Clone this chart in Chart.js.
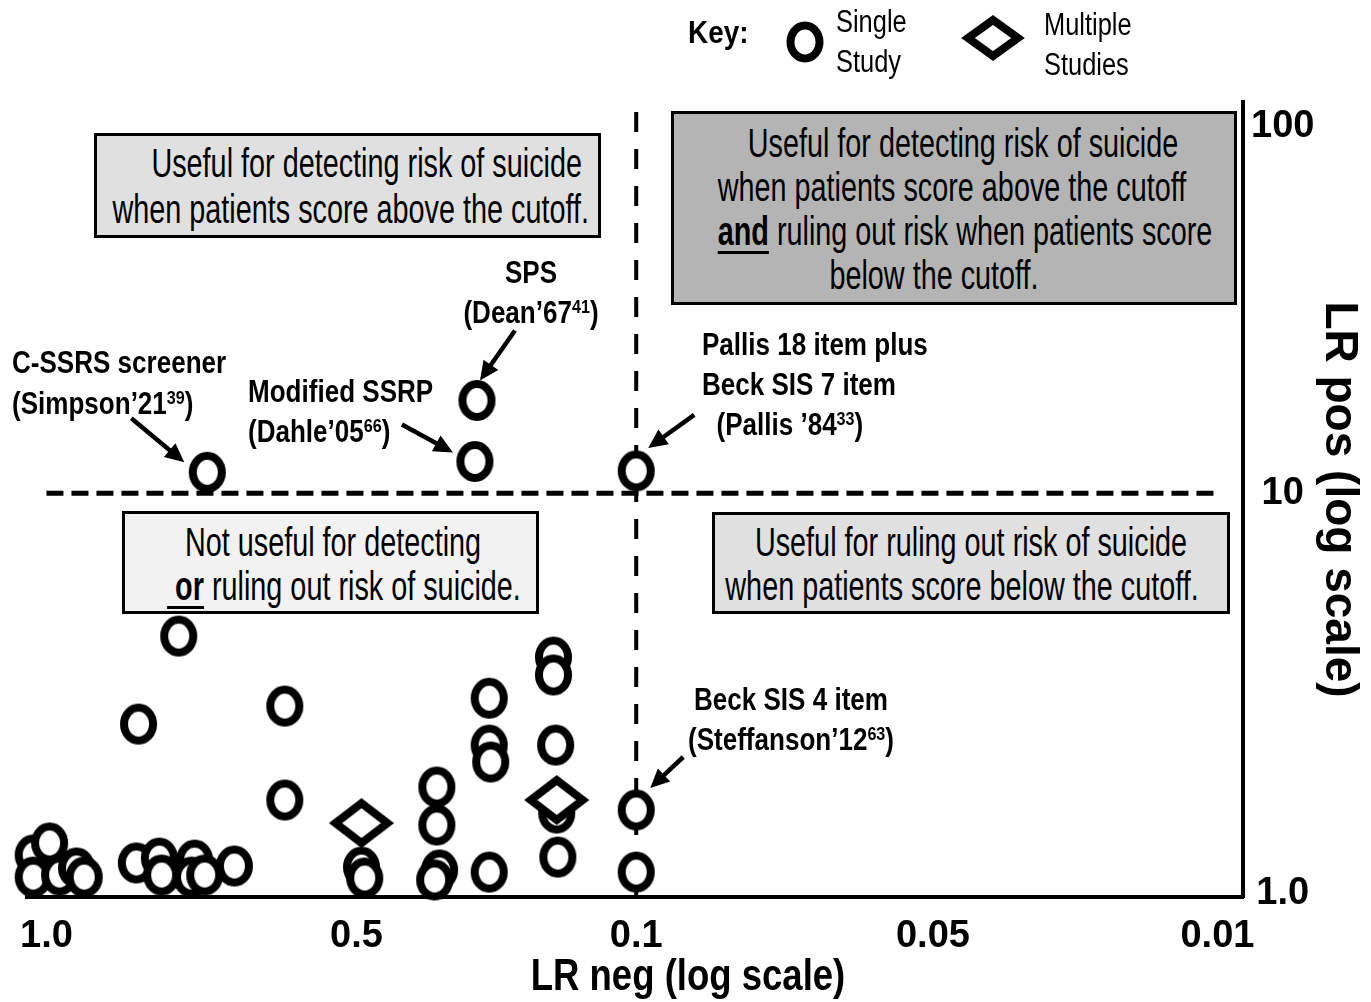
<!DOCTYPE html>
<html>
<head>
<meta charset="utf-8">
<title>LR pos vs LR neg</title>
<script src="https://cdn.jsdelivr.net/npm/chart.js@4.4.1/dist/chart.umd.min.js"></script>
<style>
  body { margin: 0; background: #fff; }
  #wrap { position: relative; width: 1371px; height: 1002px; overflow: hidden; }
  #chart { position: absolute; left: 0; top: 0; }
  .box { position: absolute; border: 3px solid #000; box-sizing: border-box; }
  /* the figure's lettering is a condensed face, so squeeze Liberation Sans */
  .t { position: absolute; white-space: nowrap; font-family: "Liberation Sans", Arial, sans-serif; color: #000; }
  .al { transform-origin: 0 50%; transform: scaleX(var(--s)); }
  .ac { transform-origin: 50% 50%; transform: translateX(-50%) scaleX(var(--s)); }
  .ar { transform-origin: 100% 50%; transform: translateX(-100%) scaleX(var(--s)); }
  .bt { font-size: 40px; line-height: 44px; --s: 0.72; }
  .lab { font-size: 31px; line-height: 40px; font-weight: bold; --s: 0.84; }
  .kt { font-size: 31px; line-height: 40px; --s: 0.82; }
  sup { font-size: 0.62em; line-height: 0; vertical-align: 0.5em; }
  u { text-decoration-thickness: 3px; text-underline-offset: 6px; }
  svg { position: absolute; overflow: visible; }
</style>
</head>
<body>
<div id="wrap">
  <canvas id="chart" width="1371" height="1002"></canvas>

  <!-- key -->
  <div class="t lab al" style="left:688px;top:13px;--s:0.9;">Key:</div>
  <svg style="left:805px;top:42px;" width="1" height="1"><ellipse cx="0" cy="0" rx="14.5" ry="16.5" fill="#fff" stroke="#000" stroke-width="8"/></svg>
  <div class="t kt al" style="left:836px;top:2px;">Single</div>
  <div class="t kt al" style="left:836px;top:42px;">Study</div>
  <svg style="left:993px;top:38px;" width="1" height="1"><polygon points="-25,0 0,-18 25,0 0,18" fill="#fff" stroke="#000" stroke-width="8"/></svg>
  <div class="t kt al" style="left:1044px;top:5px;">Multiple</div>
  <div class="t kt al" style="left:1044px;top:45px;">Studies</div>

  <!-- quadrant boxes -->
  <div class="box" style="left:94px;top:133px;width:507px;height:105px;background:#e0e0e0;"></div>
  <div class="t bt ar" style="left:582px;top:141px;">Useful for detecting risk of suicide</div>
  <div class="t bt ar" style="left:589px;top:187px;">when patients score above the cutoff.</div>

  <div class="box" style="left:671px;top:111px;width:566px;height:194px;background:#b4b4b4;"></div>
  <div class="t bt ac" style="left:963px;top:121px;">Useful for detecting risk of suicide</div>
  <div class="t bt ac" style="left:952px;top:165px;">when patients score above the cutoff</div>
  <div class="t bt ac" style="left:965px;top:209px;"><u><b>and</b></u> ruling out risk when patients score</div>
  <div class="t bt ac" style="left:934px;top:253px;">below the cutoff.</div>

  <div class="box" style="left:122px;top:511px;width:417px;height:103px;background:#f2f2f2;"></div>
  <div class="t bt ac" style="left:333px;top:520px;">Not useful for detecting</div>
  <div class="t bt ac" style="left:344px;top:564px;"><u><b>&nbsp;or</b></u> ruling out risk of suicide.</div>

  <div class="box" style="left:712px;top:512px;width:518px;height:102px;background:#e0e0e0;"></div>
  <div class="t bt ac" style="left:971px;top:520px;">Useful for ruling out risk of suicide</div>
  <div class="t bt ac" style="left:962px;top:564px;">when patients score below the cutoff.</div>

  <!-- study labels -->
  <div class="t lab al" style="left:12px;top:342px;line-height:41px;">C-SSRS screener<br>(Simpson’21<sup>39</sup>)</div>
  <div class="t lab al" style="left:248px;top:372px;">Modified SSRP<br>(Dahle’05<sup>66</sup>)</div>
  <div class="t lab ac" style="left:531px;top:253px;text-align:center;">SPS<br>(Dean’67<sup>41</sup>)</div>
  <div class="t lab al" style="left:702px;top:325px;">Pallis 18 item plus<br>Beck SIS 7 item<br>&nbsp;&nbsp;(Pallis ’84<sup>33</sup>)</div>
  <div class="t lab ac" style="left:791px;top:680px;text-align:center;">Beck SIS 4 item<br>(Steffanson’12<sup>63</sup>)</div>

  <!-- x axis title -->
  <div class="t ac" style="left:688px;top:950px;font-weight:bold;font-size:44px;line-height:50px;--s:0.83;">LR neg (log scale)</div>
</div>

<script>
// ---- values ----
const xTickLabels = ['1.0', '0.5', '0.1', '0.05', '0.01'];
const xTickValues = [1, 0.5, 0.1, 0.05, 0.01];
const yTickLabels = ['1.0', '10', '100'];
const yTickValues = [1, 10, 100];

// single studies: LR neg and LR pos
const singleNeg = [1.03, 0.993, 1.03, 0.971, 0.935, 0.919,
                   0.818, 0.777, 0.773, 0.718, 0.723, 0.702, 0.657,
                   0.587, 0.744, 0.814, 0.587,
                   0.486, 0.477,
                   0.315, 0.315, 0.310, 0.319,
                   0.233, 0.233, 0.231, 0.233,
                   0.161, 0.161, 0.159, 0.158, 0.157,
                   0.10, 0.10,
                   0.698, 0.250, 0.253, 0.10];
const singlePos = [1.245, 1.334, 1.096, 1.109, 1.155, 1.096,
                   1.189, 1.223, 1.109, 1.209, 1.096, 1.109, 1.168,
                   1.708, 4.39, 2.645, 2.934,
                   1.161, 1.090,
                   1.841, 1.479, 1.142, 1.078,
                   3.07, 2.344, 2.126, 1.128,
                   3.89, 3.51, 2.344, 1.585, 1.23,
                   1.613, 1.128,
                   11.4, 17.9, 12.2, 11.5];

// pooled estimates (multiple studies)
const multiNeg = [0.486, 0.158];
const multiPos = [1.496, 1.708];

// cutoffs
const cutNeg = 0.1;
const cutPos = 10;

// the tick labels in the figure are hand placed: where each one sits (0..1 of the axis)
const xTickAt = [0.016, 0.271, 0.501, 0.745, 0.979];
const yTickAt = [0.005, 0.508, 0.969];

const FONT = '"Liberation Sans", Arial, sans-serif';

// log interpolation between the labelled ticks
function axisPos(v, vals, at) {
  const lv = Math.log10(v);
  const desc = vals[0] > vals[1];
  let i = 0;
  while (i < vals.length - 2 && (desc ? lv < Math.log10(vals[i + 1]) : lv > Math.log10(vals[i + 1]))) i++;
  const a = Math.log10(vals[i]), b = Math.log10(vals[i + 1]);
  return at[i] + (lv - a) / (b - a) * (at[i + 1] - at[i]);
}
const xPos = v => axisPos(v, xTickValues, xTickAt);
const yPos = v => axisPos(v, yTickValues, yTickAt);

// marker images
function ringMarker(rx, ry, lw) {
  const c = document.createElement('canvas');
  c.width = Math.ceil(2 * rx + lw + 2);
  c.height = Math.ceil(2 * ry + lw + 2);
  const g = c.getContext('2d');
  g.beginPath();
  g.ellipse(c.width / 2, c.height / 2, rx, ry, 0, 0, Math.PI * 2);
  g.fillStyle = '#fff';
  g.fill();
  g.lineWidth = lw;
  g.strokeStyle = '#000';
  g.stroke();
  return c;
}
function diamondMarker(hw, hh, lw) {
  const c = document.createElement('canvas');
  c.width = Math.ceil(2 * hw + 2 * lw + 4);
  c.height = Math.ceil(2 * hh + 2 * lw + 4);
  const g = c.getContext('2d');
  const cx = c.width / 2, cy = c.height / 2;
  g.beginPath();
  g.moveTo(cx - hw, cy); g.lineTo(cx, cy - hh); g.lineTo(cx + hw, cy); g.lineTo(cx, cy + hh);
  g.closePath();
  g.fillStyle = '#fff';
  g.fill();
  g.lineWidth = lw;
  g.lineJoin = 'miter';
  g.strokeStyle = '#000';
  g.stroke();
  return c;
}

// arrows from the study labels to their points
const arrowNotes = [
  { neg: 0.698, pos: 11.4, tip: [-23, -10], tail: [-76, -54] },
  { neg: 0.250, pos: 17.9, tip: [3, -20], tail: [38, -70] },
  { neg: 0.253, pos: 12.2, tip: [-22, -9], tail: [-73, -37] },
  { neg: 0.10, pos: 11.5, tip: [12, -23], tail: [58, -56] },
  { neg: 0.10, pos: 1.613, tip: [14, -22], tail: [47, -53] }
];

const cutoffLines = {
  id: 'cutoffLines',
  beforeDatasetsDraw(chart) {
    const { ctx, chartArea, scales: { x, y } } = chart;
    ctx.save();
    ctx.strokeStyle = '#000';
    // LR pos = 10
    const yc = y.getPixelForValue(yPos(cutPos));
    ctx.lineWidth = 5;
    ctx.setLineDash([17, 8]);
    ctx.beginPath();
    ctx.moveTo(x.getPixelForValue(xPos(1)), yc);
    ctx.lineTo(x.getPixelForValue(xPos(0.0102)), yc);
    ctx.stroke();
    // LR neg = 0.1
    const xc = x.getPixelForValue(xPos(cutNeg));
    ctx.lineWidth = 4;
    ctx.setLineDash([20, 17]);
    ctx.beginPath();
    ctx.moveTo(xc, chartArea.top + 10);
    ctx.lineTo(xc, chartArea.bottom);
    ctx.stroke();
    ctx.restore();
  },
  afterDatasetsDraw(chart) {
    const { ctx, scales: { x, y } } = chart;
    ctx.save();
    ctx.strokeStyle = '#000';
    ctx.fillStyle = '#000';
    ctx.lineWidth = 4.5;
    arrowNotes.forEach(a => {
      const px = x.getPixelForValue(xPos(a.neg));
      const py = y.getPixelForValue(yPos(a.pos));
      const tx = px + a.tip[0], ty = py + a.tip[1];
      const sx = px + a.tail[0], sy = py + a.tail[1];
      const ang = Math.atan2(ty - sy, tx - sx);
      const head = 19, half = 9;
      const bx = tx - head * Math.cos(ang), by = ty - head * Math.sin(ang);
      ctx.beginPath();
      ctx.moveTo(sx, sy);
      ctx.lineTo(bx + 2 * Math.cos(ang), by + 2 * Math.sin(ang));
      ctx.stroke();
      ctx.beginPath();
      ctx.moveTo(tx, ty);
      ctx.lineTo(bx + half * Math.sin(ang), by - half * Math.cos(ang));
      ctx.lineTo(bx - half * Math.sin(ang), by + half * Math.cos(ang));
      ctx.closePath();
      ctx.fill();
    });
    ctx.restore();
  }
};

const ring = ringMarker(14.5, 16.5, 8);
const diamond = diamondMarker(26, 20, 8);

new Chart(document.getElementById('chart'), {
  type: 'scatter',
  data: {
    datasets: [
      {
        label: 'Multiple Studies',
        data: multiNeg.map((v, i) => ({ x: xPos(v), y: yPos(multiPos[i]) })),
        pointStyle: diamond,
        pointRadius: 20,
        clip: false
      },
      {
        label: 'Single Study',
        data: singleNeg.map((v, i) => ({ x: xPos(v), y: yPos(singlePos[i]) })),
        pointStyle: ring,
        pointRadius: 14,
        clip: false
      }
    ]
  },
  options: {
    responsive: false,
    devicePixelRatio: 1,
    animation: false,
    events: [],
    layout: { padding: { left: 27, top: 102, right: 0, bottom: 0 } },
    plugins: { legend: { display: false }, tooltip: { enabled: false } },
    scales: {
      x: {
        type: 'linear',
        position: 'bottom',
        min: 0,
        max: 1,
        grid: { display: false },
        border: { display: true, color: '#000', width: 4 },
        afterBuildTicks: s => { s.ticks = xTickAt.map(v => ({ value: v })); },
        afterFit: s => { s.height = 105; },
        ticks: {
          autoSkip: false,
          maxRotation: 0,
          padding: 9,
          color: '#000',
          font: { family: FONT, size: 38, weight: 'bold' },
          callback: (v, i) => xTickLabels[i]
        }
      },
      y: {
        type: 'linear',
        position: 'right',
        min: 0,
        max: 1,
        grid: { display: false },
        border: { display: true, color: '#000', width: 4 },
        afterBuildTicks: s => { s.ticks = yTickAt.map(v => ({ value: v })); },
        afterFit: s => { s.width = 128; },
        ticks: {
          autoSkip: false,
          crossAlign: 'center',
          padding: 0,
          color: '#000',
          font: { family: FONT, size: 38, weight: 'bold' },
          callback: (v, i) => yTickLabels[i]
        },
        title: {
          display: true,
          text: 'LR pos (log scale)',
          color: '#000',
          font: { family: FONT, size: 46, weight: 'bold' },
          padding: { top: 5, bottom: 0 }
        }
      }
    }
  },
  plugins: [cutoffLines]
});
</script>
</body>
</html>
